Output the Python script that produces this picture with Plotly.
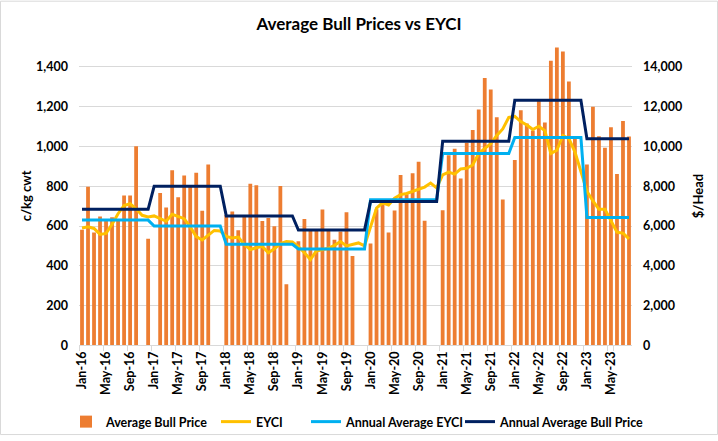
import plotly.graph_objects as go

# ---- categories (monthly, Jan-16 .. Aug-23) ----
years = [2016, 2017, 2018, 2019, 2020, 2021, 2022, 2023]
month_names = ["Jan", "Feb", "Mar", "Apr", "May", "Jun", "Jul", "Aug", "Sep", "Oct", "Nov", "Dec"]
months = [f"{m}-{str(y)[2:]}" for y in years for m in month_names][:92]

# ---- series values ----
# Average Bull Price ($/Head), None = no sale that month
bull_price = [
    5820, 7970, 5670, 6480, 6250, 6440, 6300, 7530, 7530, 10010, None, 5360,
    None, 7660, 6930, 8810, 7450, 8540, 8010, 8680, 6770, 9100, None, None,
    6550, 6730, 5790, 6460, 8130, 8050, 6250, 6410, 5990, 8010, 3080, None,
    5240, 6360, 5750, 5750, 6830, 5800, 5310, 5720, 6690, 4500, None, None,
    5120, 6850, 7110, 5680, 6780, 8570, 7600, 8660, 9230, 6270, None, None,
    6800, 9560, 9890, 8390, 10190, 10830, 11860, 13440, 12860, 11470, 7340, None,
    9320, 11820, 11160, 10800, 12380, 11210, 14310, 14970, 14770, 13270, 10430, None,
    9100, 12000, 10520, 9940, 10970, 8620, 11280, 10500,
]

# EYCI (c/kg cwt)
eyci = [
    590, 596, 588, 558, 563, 609, 662, 703, 712, 687, 654, 646,
    651, 637, 624, 659, 649, 637, 596, 547, 530, 555, 578, 575,
    548, 540, 545, 507, 482, 491, 498, 466, 486, 512, 522, 520,
    497, 466, 432, 475, 480, 488, 503, 522, 500, 508, 515, 500,
    590, 690, 717, 706, 740, 758, 764, 774, 783, 796, 816, 792,
    857, 871, 861, 887, 890, 907, 965, 989, 1014, 1055, 1088, 1146,
    1151, 1125, 1108, 1085, 1102, 1080, 965, 981, 1055, 1039, 973, 874,
    775, 726, 684, 684, 627, 569, 564, 536,
]

# Annual averages per year
annual_eyci = [630, 600, 508, 485, 732, 965, 1045, 643]          # c/kg cwt
annual_bull = [6840, 8000, 6510, 5800, 7240, 10260, 12320, 10390]  # $/Head

# expand annual values to the monthly categories
annual_eyci_m = [annual_eyci[i // 12] for i in range(len(months))]
annual_bull_m = [annual_bull[i // 12] for i in range(len(months))]

left_ticks = [0, 200, 400, 600, 800, 1000, 1200, 1400]
right_ticks = [0, 2000, 4000, 6000, 8000, 10000, 12000, 14000]

FONT = "Lato"
bold = dict(family=FONT, size=12.5, color="#000000", weight="bold")
leg_font = dict(family=FONT, size=12.5, color="#000000", weight="bold")

fig = go.Figure()
fig.add_trace(go.Bar(x=months, y=bull_price, name="Average Bull Price",
                     marker=dict(color="#ED7D31", line=dict(width=0)), yaxis="y",
                     legend="legend"))
fig.add_trace(go.Scatter(x=months, y=eyci, name="EYCI", mode="lines",
                         line=dict(color="#FFC000", width=3), yaxis="y2",
                         legend="legend2"))
fig.add_trace(go.Scatter(x=months, y=annual_eyci_m, name="Annual Average EYCI", mode="lines",
                         line=dict(color="#00B0F0", width=3), yaxis="y2",
                         legend="legend3"))
fig.add_trace(go.Scatter(x=months, y=annual_bull_m, name="Annual Average Bull Price", mode="lines",
                         line=dict(color="#002060", width=3), yaxis="y3",
                         legend="legend4"))

W, H = 718, 441
ml, mr, mt, mb = 79, 86, 47, 91
pw, ph = W - ml - mr, H - mt - mb
LEG_Y = 1 - 422 / H


def leg(text_start):
    return dict(orientation="h", xref="container", yref="container",
                x=(text_start - 40) / W, xanchor="left", y=LEG_Y, yanchor="middle",
                font=leg_font, bgcolor="rgba(0,0,0,0)", itemwidth=30)


fig.update_layout(
    width=W, height=H,
    margin=dict(l=ml, r=mr, t=mt, b=mb),
    paper_bgcolor="white", plot_bgcolor="white",
    bargap=0.37,
    title=dict(text="Average Bull Prices vs EYCI", x=0.5, xanchor="center",
               xref="container", y=1 - 24 / H, yanchor="middle", yref="container",
               font=dict(family=FONT, size=17, color="#000000", weight="bold")),
    xaxis=dict(type="category", categoryorder="array", categoryarray=months,
               range=[-0.5, len(months) - 0.5],
               tickmode="array", tickvals=months[::4], ticktext=months[::4],
               tickson="boundaries", ticks="outside", ticklen=5, tickcolor="#d9d9d9",
               tickangle=-90, tickfont=bold, showline=True, linecolor="#d9d9d9",
               linewidth=1, showgrid=False, zeroline=False),
    yaxis=dict(side="right", range=[0, 15000], tickmode="array", tickvals=right_ticks,
               tickformat=",", tickfont=bold, showgrid=True, gridcolor="#d9d9d9",
               gridwidth=1, zeroline=False, showline=False, ticks="",
               ticklabelstandoff=10),
    yaxis2=dict(overlaying="y", side="left", range=[0, 1500], tickmode="array",
                tickvals=left_ticks, tickformat=",", tickfont=bold, showgrid=False,
                zeroline=False, showline=False, ticks="", ticklabelstandoff=10),
    yaxis3=dict(overlaying="y", side="right", range=[0, 15000], visible=False,
                showgrid=False, zeroline=False),
    legend=leg(106),
    legend2=leg(256),
    legend3=leg(346),
    legend4=leg(500),
    showlegend=True,
)

# axis titles
fig.add_annotation(text="c/kg cwt", xref="paper", yref="paper",
                   x=(26 - ml) / pw, y=0.5, textangle=-90, showarrow=False,
                   xanchor="center", yanchor="middle",
                   font=dict(family=FONT, size=13, color="#000000", weight="bold"))
fig.add_annotation(text="$/Head", xref="paper", yref="paper",
                   x=(698 - ml) / pw, y=0.5, textangle=-90, showarrow=False,
                   xanchor="center", yanchor="middle",
                   font=dict(family=FONT, size=13, color="#000000", weight="bold"))

# chart border
fig.add_shape(type="rect", xref="paper", yref="paper", layer="above",
              x0=(0.5 - ml) / pw, x1=(W - 0.5 - ml) / pw,
              y0=-(mb - 0.5) / ph, y1=1 + (mt - 0.5) / ph,
              line=dict(color="#d9d9d9", width=1))

fig.write_html("out.html", config={"displayModeBar": False},
               post_script="document.body.style.margin='0px';document.body.style.overflow='hidden';")
